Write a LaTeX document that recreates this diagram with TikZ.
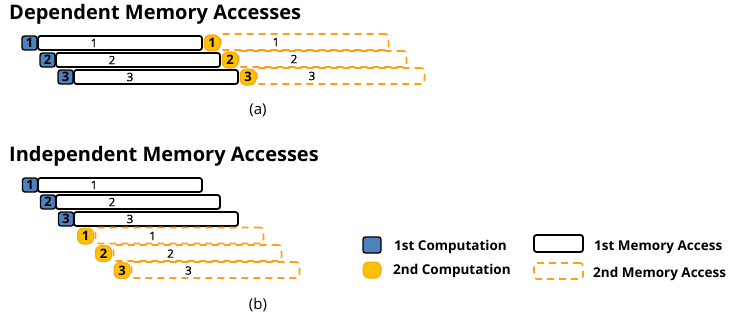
\documentclass[tikz,border=0pt]{standalone}
\usepackage{fontspec}
\setmainfont{Open Sans}
\newfontfamily\numfont[FakeBold=0.8]{Open Sans}
\definecolor{compblue}{RGB}{79,129,189}
\definecolor{compgold}{RGB}{255,192,0}
\definecolor{goldedge}{RGB}{247,166,30}
\definecolor{dashorange}{RGB}{255,160,20}
\tikzset{
  firstcomp/.style={draw=black, fill=compblue, line width=1.4pt, rounded corners=2.5pt,
    inner sep=0pt, outer sep=0pt, minimum width=15pt, minimum height=14pt,
    font=\fontsize{13}{13}\selectfont\bfseries},
  firstmem/.style={draw=black, fill=white, line width=1.8pt, rounded corners=2.5pt,
    inner sep=0pt, outer sep=0pt, minimum width=164pt, minimum height=14pt},
  secondcomp/.style={draw=goldedge, fill=compgold, line width=1pt, rounded corners=6pt,
    inner sep=0pt, outer sep=0pt, minimum width=16pt, minimum height=16pt,
    font=\fontsize{13}{13}\selectfont\bfseries},
  secondmem/.style={draw=dashorange, line width=1.6pt, dash pattern=on 7pt off 5pt,
    rounded corners=3pt, inner sep=0pt, outer sep=0pt, minimum width=168pt, minimum height=16pt},
  boxnum/.style={font=\fontsize{11.5}{11.5}\selectfont\numfont, inner sep=0pt},
  heading/.style={anchor=base west, inner sep=0pt, font=\fontsize{20}{20}\selectfont\bfseries},
  legendtext/.style={anchor=west, inner sep=0pt, font=\fontsize{13.5}{13.5}\selectfont\bfseries},
  sublabel/.style={inner sep=0pt, font=\fontsize{15}{15}\selectfont},
}
\begin{document}
\begin{tikzpicture}[x=1pt, y=-1pt]
\useasboundingbox (0,0) rectangle (733,321);

% ---------- (a) dependent accesses ----------
\node[heading] (titleA) at (9,20) {Dependent Memory Accesses};
\foreach \i in {1,2,3}{
  \pgfmathsetmacro{\dx}{18*(\i-1)}
  \pgfmathsetmacro{\dy}{17*(\i-1)}
  \node[firstcomp] (ac\i) at (29.5+\dx,43+\dy) {\i};
  \node[firstmem]  (am\i) at (120+\dx,43+\dy) {};
  \node[boxnum] at (94+\dx,43+\dy) {\i};
  \node[secondcomp] (ad\i) at (212+\dx,43+\dy) {\i};
  \node[secondmem] (an\i) at (304.5+\dx,42+\dy) {};
  \node[boxnum] at (276+\dx,42+\dy) {\i};
}
\node[sublabel] (labA) at (258,110) {(a)};

% ---------- (b) independent accesses ----------
\node[heading] (titleB) at (9,161) {Independent Memory Accesses};
\foreach \i in {1,2,3}{
  \pgfmathsetmacro{\dx}{18*(\i-1)}
  \pgfmathsetmacro{\dy}{17*(\i-1)}
  \node[firstcomp] (bc\i) at (30+\dx,185+\dy) {\i};
  \node[firstmem]  (bm\i) at (120+\dx,185+\dy) {};
  \node[boxnum] at (94+\dx,185+\dy) {\i};
}
\foreach \i/\cx/\mx/\yy in {1/85.5/179.5/236, 2/103.5/197.5/253.5, 3/122/215.5/270.5}{
  \node[secondcomp] (bd\i) at (\cx,\yy) {\i};
  \node[secondmem] (bn\i) at (\mx,\yy-0.5) {};
  \node[boxnum] at (\mx-27,\yy) {\i};
}
\node[sublabel] (labB) at (258,305) {(b)};

% ---------- legend ----------
\node[firstcomp, minimum width=18pt, minimum height=16pt] (legc1) at (372,245) {};
\node[legendtext] (legt1) at (394,247) {1st Computation};
\node[secondcomp, minimum width=18pt, minimum height=16pt] (legc2) at (372,270) {};
\node[legendtext] (legt2) at (393,271) {2nd Computation};
\node[firstmem, minimum width=49pt, minimum height=17pt] (legm1) at (558.5,243.5) {};
\node[legendtext] (legt3) at (594,247) {1st Memory Access};
\node[secondmem, minimum width=49pt, minimum height=16pt] (legm2) at (558.5,271) {};
\node[legendtext] (legt4) at (593,274) {2nd Memory Access};
\end{tikzpicture}
\end{document}
